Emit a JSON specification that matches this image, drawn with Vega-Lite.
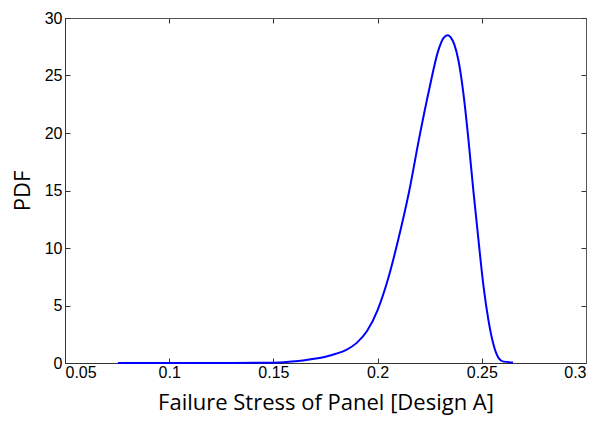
{
  "$schema": "https://vega.github.io/schema/vega-lite/v6.json",
  "width": 521,
  "height": 345,
  "autosize": {"type": "none"},
  "padding": {"left": 65, "top": 18, "right": 13, "bottom": 58},
  "background": "white",
  "config": {
    "view": {"stroke": "#555555", "strokeWidth": 1},
    "axis": {
      "domainColor": "#333333",
      "tickColor": "#333333",
      "tickSize": -5,
      "labelColor": "black",
      "labelFont": "Liberation Sans",
      "labelFontSize": 16,
      "titleFont": "Open Sans",
      "titleFontSize": 22,
      "titleFontWeight": "normal",
      "titleColor": "black",
      "grid": false
    }
  },
  "data": {
    "values": [
      {"x": 0.0754, "y": 0.0},
      {"x": 0.1, "y": 0.0},
      {"x": 0.13, "y": 0.0},
      {"x": 0.145, "y": 0.02},
      {"x": 0.155, "y": 0.07},
      {"x": 0.162, "y": 0.17},
      {"x": 0.168, "y": 0.33},
      {"x": 0.175, "y": 0.55},
      {"x": 0.18, "y": 0.8},
      {"x": 0.185, "y": 1.15},
      {"x": 0.19, "y": 1.75},
      {"x": 0.195, "y": 2.8},
      {"x": 0.2, "y": 4.6},
      {"x": 0.205, "y": 7.3},
      {"x": 0.21, "y": 10.8},
      {"x": 0.215, "y": 14.8},
      {"x": 0.22, "y": 19.6},
      {"x": 0.225, "y": 24.0},
      {"x": 0.229, "y": 27.1},
      {"x": 0.2316, "y": 28.25},
      {"x": 0.2337, "y": 28.5},
      {"x": 0.2352, "y": 28.3},
      {"x": 0.2368, "y": 27.7},
      {"x": 0.2388, "y": 26.3},
      {"x": 0.2412, "y": 23.4},
      {"x": 0.2436, "y": 19.4},
      {"x": 0.246, "y": 14.9},
      {"x": 0.2484, "y": 10.7},
      {"x": 0.2508, "y": 6.7},
      {"x": 0.2532, "y": 3.7},
      {"x": 0.2556, "y": 1.6},
      {"x": 0.258, "y": 0.45},
      {"x": 0.2604, "y": 0.12},
      {"x": 0.265, "y": 0.05}
    ]
  },
  "layer": [
    {
      "mark": {"type": "line", "color": "#0000ff", "strokeWidth": 2, "interpolate": "monotone"},
      "encoding": {
        "x": {
          "field": "x", "type": "quantitative",
          "scale": {"domain": [0.05, 0.3], "nice": false, "zero": false},
          "axis": {"values": [0.05, 0.1, 0.15, 0.2, 0.25, 0.3], "format": "~g", "title": "Failure Stress of Panel [Design A]", "titlePadding": 12, "labelPadding": 6}
        },
        "y": {
          "field": "y", "type": "quantitative",
          "scale": {"domain": [0, 30], "nice": false},
          "axis": {"values": [0, 5, 10, 15, 20, 25, 30], "title": "PDF", "titlePadding": 10, "labelPadding": 8}
        }
      }
    },
    {
      "mark": {"type": "line", "opacity": 0},
      "encoding": {
        "x": {
          "field": "x", "type": "quantitative",
          "axis": {"orient": "top", "values": [0.05, 0.1, 0.15, 0.2, 0.25, 0.3], "labels": false, "title": null, "domainColor": "#555555"}
        },
        "y": {
          "field": "y", "type": "quantitative",
          "axis": {"orient": "right", "values": [0, 5, 10, 15, 20, 25, 30], "labels": false, "title": null, "domainColor": "#555555"}
        }
      }
    }
  ],
  "resolve": {"axis": {"x": "independent", "y": "independent"}}
}
